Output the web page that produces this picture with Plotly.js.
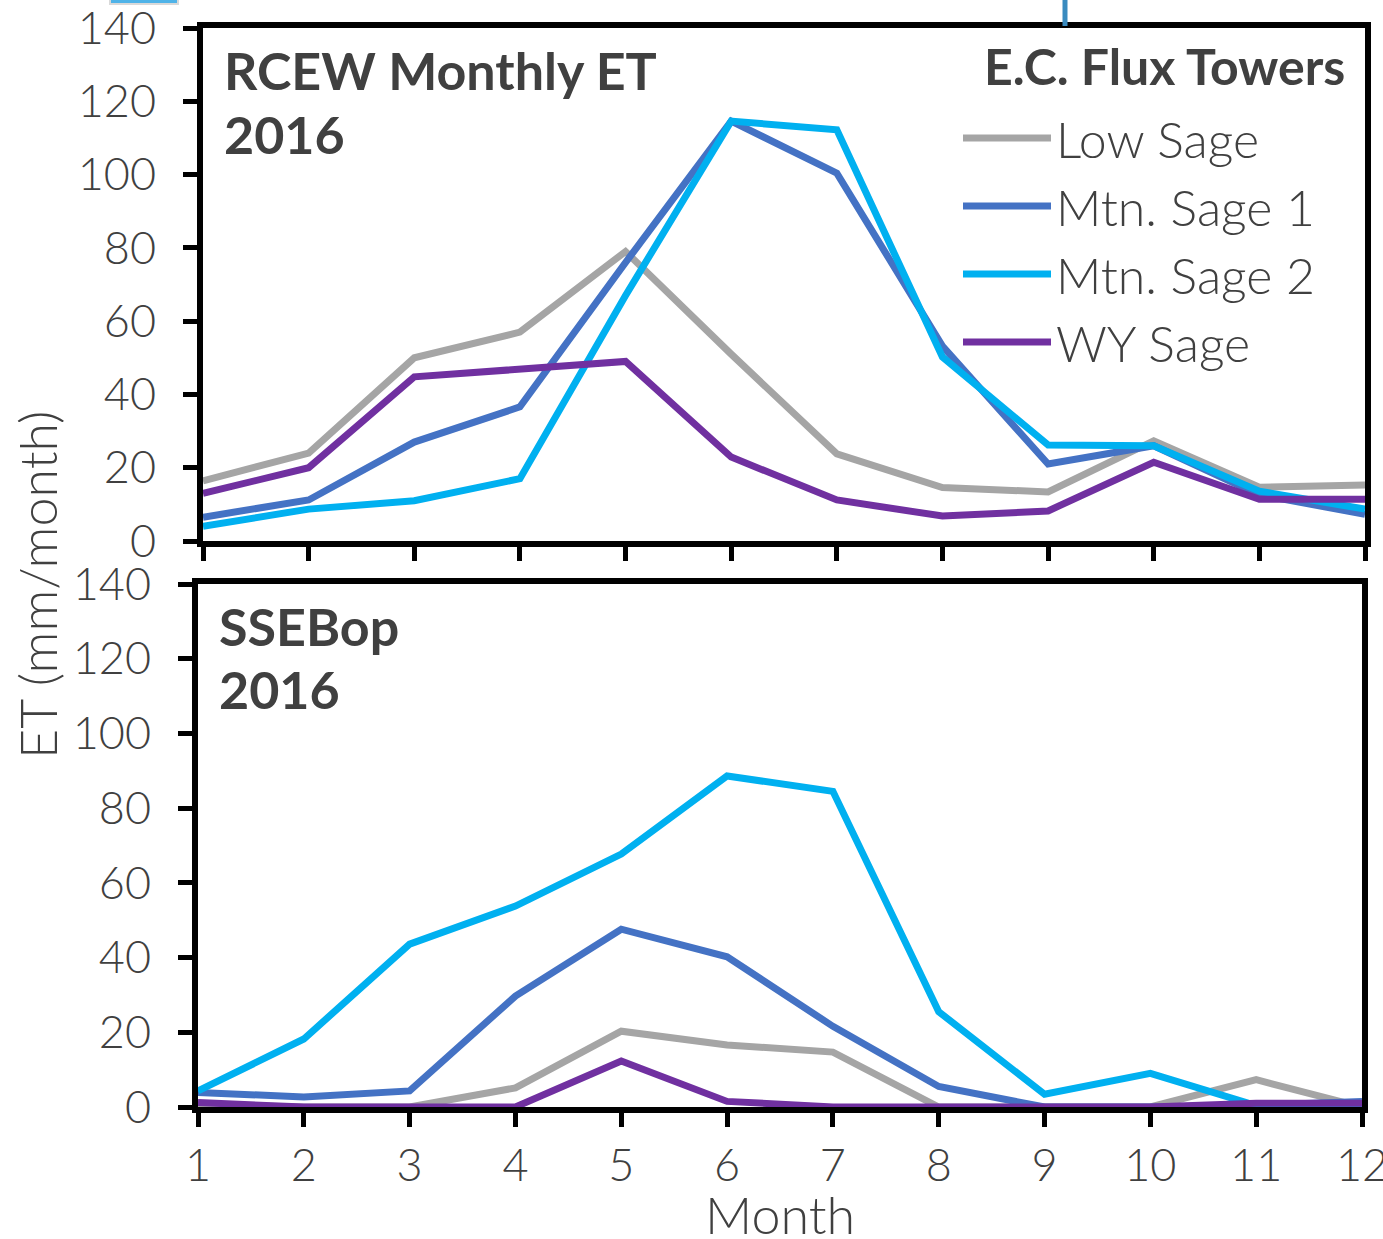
<!DOCTYPE html>
<html>
<head>
<meta charset="utf-8">
<script src="https://cdn.plot.ly/plotly-3.0.1.min.js"></script>
<style>html,body{margin:0;padding:0;background:#fff;}#chart{width:1383px;height:1239px;}</style>
</head>
<body>
<div id="chart"></div>
<script>
const months = [1,2,3,4,5,6,7,8,9,10,11,12];
const seriesNames = ["Low Sage", "Mtn. Sage 1", "Mtn. Sage 2", "WY Sage"];
const seriesColors = ["#A5A5A5", "#4472C4", "#00B0F0", "#7030A0"];

// RCEW eddy-covariance flux towers, 2016 (mm/month)
const rcewLowSage  = [16.4, 24, 50, 57, 79, 51, 23.8, 14.6, 13.4, 27.3, 14.7, 15.3];
const rcewMtnSage1 = [6.5, 11.2, 27, 36.6, 76, 114.6, 100.4, 53.2, 21, 26, 12.6, 7.3];
const rcewMtnSage2 = [4, 8.7, 11, 17, 67, 114.6, 112.2, 50.2, 26.2, 26, 13.6, 8.7];
const rcewWYSage   = [13, 20, 44.8, 47, 49, 22.9, 11.2, 6.8, 8.2, 21.5, 11.4, 11.4];

// SSEBop 2016 (mm/month)
const ssebLowSage  = [0.5, 0, 0, 5.1, 20.3, 16.6, 14.7, 0, 0, 0, 7.3, 0];
const ssebMtnSage1 = [3.9, 2.7, 4.3, 29.7, 47.6, 40.2, 21.6, 5.5, 0, 0, 0.5, 1.5];
const ssebMtnSage2 = [4.3, 18.2, 43.6, 53.8, 67.7, 88.6, 84.5, 25.5, 3.4, 9, 0.4, 0.7];
const ssebWYSage   = [1.2, 0, 0, 0, 12.3, 1.5, 0, 0, 0, 0, 1, 1];

const yTickVals = [0,20,40,60,80,100,120,140];

const rcew = [rcewLowSage, rcewMtnSage1, rcewMtnSage2, rcewWYSage];
const sseb = [ssebLowSage, ssebMtnSage1, ssebMtnSage2, ssebWYSage];

const W = 1383, H = 1239;
const px = v => v / W;
const py = v => 1 - v / H;

const traces = [];
rcew.forEach((vals, i) => traces.push({
  x: months, y: vals, type: "scatter", mode: "lines",
  name: seriesNames[i], legendgroup: "g" + i,
  line: {color: seriesColors[i], width: 7},
  xaxis: "x", yaxis: "y", showlegend: true
}));
sseb.forEach((vals, i) => traces.push({
  x: months, y: vals, type: "scatter", mode: "lines",
  name: seriesNames[i], legendgroup: "g" + i,
  line: {color: seriesColors[i], width: 7},
  xaxis: "x2", yaxis: "y2", showlegend: false
}));

const tickFont = {family: "Lato, 'Open Sans', sans-serif", size: 45, color: "#404040", weight: 300};
const axisCommon = {
  showline: true, linecolor: "#000", linewidth: 6, mirror: true,
  ticks: "outside", ticklen: 14, tickwidth: 5, tickcolor: "#000",
  showgrid: false, zeroline: false, fixedrange: true,
  ticklabeloverflow: "allow"
};

const layout = {
  width: W, height: H,
  margin: {l: 0, r: 0, t: 0, b: 0},
  paper_bgcolor: "#fff", plot_bgcolor: "#fff",
  font: {family: "Lato, 'Open Sans', sans-serif", color: "#404040"},
  xaxis: Object.assign({}, axisCommon, {
    domain: [px(203), px(1365)], range: [1, 12], anchor: "y",
    tickvals: months, showticklabels: false
  }),
  yaxis: Object.assign({}, axisCommon, {
    domain: [py(541), py(28)], range: [0, 140], anchor: "x",
    tickvals: yTickVals, tickfont: tickFont, ticklabelstandoff: 18
  }),
  xaxis2: Object.assign({}, axisCommon, {
    domain: [px(198), px(1362)], range: [1, 12], anchor: "y2",
    tickvals: months, tickfont: tickFont, ticklabelstandoff: 0
  }),
  yaxis2: Object.assign({}, axisCommon, {
    domain: [py(1107), py(584)], range: [0, 140], anchor: "x2",
    tickvals: yTickVals, tickfont: tickFont, ticklabelstandoff: 18
  }),
  showlegend: true,
  legend: {
    x: px(958), y: py(99), xanchor: "left", yanchor: "top",
    bgcolor: "rgba(0,0,0,0)", borderwidth: 0,
    font: {family: "Lato, sans-serif", size: 50, color: "#404040", weight: 300},
    traceorder: "grouped", tracegroupgap: 0, itemwidth: 88
  },
  annotations: [
    {xref: "paper", yref: "paper", x: px(222), y: py(70), xanchor: "left", yanchor: "middle",
     text: "<b>RCEW Monthly ET</b>", showarrow: false,
     font: {family: "Lato, sans-serif", size: 52, color: "#404040"}},
    {xref: "paper", yref: "paper", x: px(222), y: py(134), xanchor: "left", yanchor: "middle",
     text: "<b>2016</b>", showarrow: false,
     font: {family: "Lato, sans-serif", size: 52, color: "#404040"}},
    {xref: "paper", yref: "paper", x: px(1347), y: py(66), xanchor: "right", yanchor: "middle",
     text: "<b>E.C. Flux Towers</b>", showarrow: false,
     font: {family: "Lato, sans-serif", size: 50, color: "#404040"}},
    {xref: "paper", yref: "paper", x: px(217), y: py(626), xanchor: "left", yanchor: "middle",
     text: "<b>SSEBop</b>", showarrow: false,
     font: {family: "Lato, sans-serif", size: 52, color: "#404040"}},
    {xref: "paper", yref: "paper", x: px(217), y: py(689), xanchor: "left", yanchor: "middle",
     text: "<b>2016</b>", showarrow: false,
     font: {family: "Lato, sans-serif", size: 52, color: "#404040"}},
    {xref: "paper", yref: "paper", x: px(780), y: py(1214), xanchor: "center", yanchor: "middle",
     text: "Month", showarrow: false,
     font: {family: "Lato, sans-serif", size: 52, color: "#404040", weight: 300}},
    {xref: "paper", yref: "paper", x: px(37), y: py(585), xanchor: "center", yanchor: "middle",
     text: "ET (mm/month)", textangle: -90, showarrow: false,
     font: {family: "Lato, sans-serif", size: 52, color: "#404040", weight: 300}}
  ],
  shapes: [
    {type: "line", xref: "paper", yref: "paper", x0: px(1065), x1: px(1065), y0: 1, y1: py(26),
     line: {color: "#3A8BBF", width: 5}},
    {type: "rect", xref: "paper", yref: "paper", x0: px(110), x1: px(178), y0: 1.01, y1: py(4),
     fillcolor: "#4FB3E8", line: {color: "#D9D9D9", width: 2}}
  ]
};

Plotly.newPlot("chart", traces, layout, {displayModeBar: false, staticPlot: true});
</script>
</body>
</html>
